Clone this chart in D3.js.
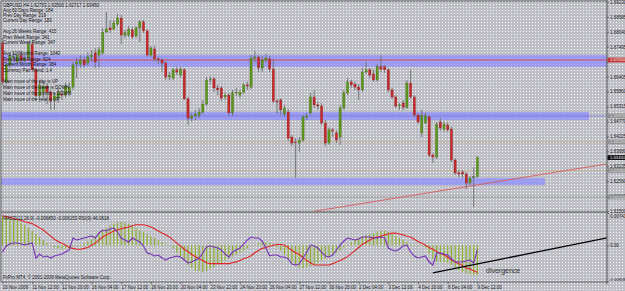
<!DOCTYPE html>
<html>
<head>
<meta charset="utf-8">
<script src="https://cdn.jsdelivr.net/npm/d3@7"></script>
<style>
  body { margin: 0; background: #c4c5cc; }
  svg { display: block; }
</style>
</head>
<body>
<svg id="chart" width="625" height="291"></svg>
<script>
// GBPUSD H4, one row per bar: [open, high, low, close]
var ohlc = [
  [1.6763,1.6781,1.6610,1.6621],[1.6621,1.6694,1.6613,1.6683],[1.6683,1.6727,1.6672,1.6716],[1.6712,1.6730,1.6694,1.6714],
  [1.6694,1.6730,1.6686,1.6719],[1.6719,1.6730,1.6690,1.6701],[1.6701,1.6719,1.6690,1.6708],[1.6708,1.6767,1.6701,1.6759],
  [1.6759,1.6774,1.6657,1.6665],[1.6665,1.6672,1.6555,1.6570],[1.6570,1.6628,1.6555,1.6610],[1.6584,1.6621,1.6562,1.6606],
  [1.6606,1.6617,1.6540,1.6584],[1.6584,1.6592,1.6519,1.6551],[1.6555,1.6581,1.6519,1.6570],[1.6562,1.6599,1.6544,1.6584],
  [1.6577,1.6592,1.6555,1.6573],[1.6573,1.6621,1.6562,1.6606],[1.6581,1.6621,1.6570,1.6602],[1.6602,1.6694,1.6592,1.6683],
  [1.6686,1.6708,1.6635,1.6694],[1.6686,1.6719,1.6672,1.6701],[1.6701,1.6712,1.6672,1.6683],[1.6690,1.6730,1.6679,1.6712],
  [1.6712,1.6738,1.6694,1.6719],[1.6727,1.6745,1.6672,1.6694],[1.6719,1.6748,1.6672,1.6738],[1.6727,1.6818,1.6719,1.6803],
  [1.6803,1.6876,1.6800,1.6814],[1.6818,1.6847,1.6800,1.6811],[1.6814,1.6847,1.6811,1.6836],[1.6832,1.6869,1.6825,1.6854],
  [1.6854,1.6865,1.6759,1.6792],[1.6792,1.6811,1.6781,1.6800],[1.6792,1.6825,1.6785,1.6814],[1.6811,1.6821,1.6778,1.6785],
  [1.6789,1.6825,1.6781,1.6818],[1.6818,1.6847,1.6767,1.6840],[1.6840,1.6847,1.6800,1.6807],[1.6807,1.6814,1.6712,1.6719],
  [1.6719,1.6752,1.6712,1.6745],[1.6741,1.6752,1.6697,1.6705],[1.6705,1.6712,1.6686,1.6701],[1.6701,1.6708,1.6657,1.6690],
  [1.6690,1.6697,1.6628,1.6639],[1.6639,1.6657,1.6628,1.6646],[1.6635,1.6672,1.6628,1.6665],[1.6665,1.6676,1.6646,1.6657],
  [1.6646,1.6676,1.6635,1.6668],[1.6665,1.6672,1.6555,1.6559],[1.6559,1.6566,1.6464,1.6489],[1.6489,1.6508,1.6475,1.6497],
  [1.6497,1.6519,1.6482,1.6504],[1.6500,1.6526,1.6489,1.6511],[1.6511,1.6555,1.6504,1.6540],[1.6540,1.6639,1.6533,1.6628],
  [1.6628,1.6643,1.6613,1.6632],[1.6632,1.6639,1.6584,1.6599],[1.6599,1.6610,1.6573,1.6592],[1.6599,1.6606,1.6551,1.6562],
  [1.6566,1.6584,1.6555,1.6573],[1.6573,1.6581,1.6497,1.6508],[1.6508,1.6592,1.6497,1.6581],[1.6581,1.6599,1.6570,1.6584],
  [1.6573,1.6592,1.6562,1.6584],[1.6584,1.6617,1.6577,1.6610],[1.6610,1.6621,1.6592,1.6606],[1.6602,1.6719,1.6595,1.6708],
  [1.6708,1.6734,1.6694,1.6712],[1.6712,1.6719,1.6657,1.6672],[1.6672,1.6716,1.6657,1.6701],[1.6701,1.6723,1.6690,1.6708],
  [1.6705,1.6716,1.6657,1.6668],[1.6668,1.6701,1.6544,1.6551],[1.6551,1.6559,1.6504,1.6548],[1.6555,1.6562,1.6500,1.6519],
  [1.6504,1.6537,1.6493,1.6526],[1.6511,1.6522,1.6405,1.6416],[1.6420,1.6427,1.6387,1.6398],[1.6402,1.6416,1.6270,1.6400],
  [1.6398,1.6420,1.6365,1.6409],[1.6409,1.6500,1.6402,1.6493],[1.6493,1.6508,1.6482,1.6497],[1.6508,1.6581,1.6500,1.6566],
  [1.6566,1.6592,1.6526,1.6537],[1.6537,1.6548,1.6519,1.6533],[1.6533,1.6544,1.6464,1.6471],[1.6471,1.6482,1.6387,1.6398],
  [1.6398,1.6456,1.6391,1.6446],[1.6446,1.6453,1.6420,1.6442],[1.6435,1.6446,1.6398,1.6409],[1.6420,1.6537,1.6391,1.6526],
  [1.6526,1.6592,1.6519,1.6581],[1.6581,1.6635,1.6573,1.6621],[1.6621,1.6628,1.6599,1.6610],[1.6613,1.6621,1.6592,1.6602],
  [1.6602,1.6613,1.6555,1.6592],[1.6592,1.6672,1.6584,1.6657],[1.6657,1.6694,1.6650,1.6665],[1.6665,1.6672,1.6635,1.6646],
  [1.6650,1.6665,1.6621,1.6628],[1.6628,1.6686,1.6621,1.6676],[1.6676,1.6719,1.6657,1.6668],[1.6676,1.6683,1.6654,1.6665],
  [1.6665,1.6672,1.6584,1.6592],[1.6592,1.6599,1.6559,1.6566],[1.6566,1.6573,1.6526,1.6533],[1.6533,1.6544,1.6519,1.6537],
  [1.6544,1.6555,1.6519,1.6529],[1.6529,1.6628,1.6522,1.6617],[1.6617,1.6665,1.6559,1.6566],[1.6566,1.6573,1.6493,1.6500],
  [1.6500,1.6508,1.6467,1.6475],[1.6435,1.6519,1.6420,1.6500],[1.6471,1.6508,1.6467,1.6497],[1.6493,1.6500,1.6347,1.6354],
  [1.6354,1.6362,1.6325,1.6347],[1.6347,1.6475,1.6340,1.6467],[1.6475,1.6489,1.6442,1.6453],[1.6449,1.6478,1.6438,1.6467],
  [1.6464,1.6475,1.6438,1.6446],[1.6449,1.6456,1.6329,1.6336],[1.6336,1.6343,1.6281,1.6289],[1.6289,1.6300,1.6274,1.6285],
  [1.6292,1.6300,1.6270,1.6285],[1.6285,1.6292,1.6230,1.6252],[1.6252,1.6278,1.6245,1.6270],[1.6274,1.6310,1.6164,1.6275],
  [1.62753,1.63500,1.62717,1.63450]
];

// MACD(12,26,9) main values (histogram) and signal line
var macd = [
  0.0066,0.0064,0.0061,0.0059,0.0057,0.0052,0.0047,0.0040,0.0033,0.0026,0.0019,0.0012,0.0005,
  -0.0002,-0.0005,-0.0007,-0.0009,-0.0007,-0.0005,
  -0.0002,0.0000,0.0002,0.0005,
  0.0009,0.0014,0.0021,0.0028,0.0033,0.0040,0.0045,0.0050,0.0052,0.0054,
  0.0052,0.0050,0.0045,0.0040,0.0035,0.0031,0.0026,0.0021,0.0017,0.0012,0.0007,0.0002,0.0000,
  -0.0007,-0.0017,-0.0026,-0.0035,-0.0045,-0.0052,-0.0057,-0.0059,-0.0061,
  -0.0059,-0.0054,-0.0050,-0.0045,-0.0040,-0.0035,-0.0031,-0.0026,-0.0021,-0.0017,-0.0012,-0.0007,
  -0.0002,0.0002,0.0005,0.0007,0.0007,0.0005,0.0002,
  -0.0005,-0.0012,-0.0021,-0.0031,-0.0040,-0.0047,-0.0052,-0.0052,-0.0050,-0.0047,-0.0045,
  -0.0040,-0.0035,-0.0031,-0.0026,-0.0021,-0.0017,-0.0012,
  -0.0005,0.0002,0.0007,0.0012,0.0017,0.0021,0.0024,
  0.0026,0.0028,0.0031,0.0033,0.0033,0.0031,
  0.0026,0.0021,0.0017,0.0012,0.0007,0.0002,
  0.0000,-0.0002,-0.0002,-0.0005,-0.0019,-0.0031,-0.0038,-0.0038,-0.0038,-0.0040,-0.0045,-0.0052,
  -0.0057,-0.0061,-0.0064,-0.0066,-0.0068,-0.00685
];
var signal = [
  0.0068,0.0066,0.0064,0.0061,0.0059,0.0057,0.0054,0.0052,0.0050,
  0.0045,0.0040,0.0035,0.0028,0.0021,0.0014,0.0009,0.0005,0.0000,
  -0.0005,-0.0007,-0.0009,-0.0009,-0.0007,-0.0005,
  0.0000,0.0005,0.0012,0.0019,0.0024,0.0028,0.0033,0.0035,0.0038,0.0040,0.0042,0.0045,
  0.0047,0.0047,0.0047,0.0045,0.0042,0.0038,0.0033,0.0028,0.0024,0.0019,0.0012,0.0005,
  -0.0002,-0.0009,-0.0014,-0.0021,-0.0026,-0.0031,-0.0035,-0.0040,-0.0042,-0.0042,-0.0042,-0.0042,-0.0042,-0.0042,
  -0.0040,-0.0038,-0.0035,-0.0031,-0.0028,-0.0024,-0.0017,-0.0012,-0.0007,-0.0005,-0.0002,0.0000,0.0002,0.0002,0.0000,
  -0.0005,-0.0012,-0.0017,-0.0021,-0.0028,-0.0035,-0.0040,-0.0045,-0.0045,-0.0045,-0.0045,-0.0045,-0.0042,-0.0038,-0.0035,
  -0.0031,-0.0026,-0.0019,-0.0012,-0.0005,0.0002,0.0007,0.0012,0.0017,0.0019,0.0021,0.0024,0.0026,0.0028,0.0028,
  0.0026,0.0024,0.0021,0.0019,0.0014,0.0009,0.0005,0.0000,-0.0005,-0.0009,-0.0014,-0.0019,-0.0021,-0.0028,-0.0033,
  -0.0038,-0.0042,-0.0047,-0.0052,-0.0054,-0.0059,-0.006153
];
// RSI(9)
var rsi = [
  42.6,51.5,54.4,55.9,55.9,54.4,52.9,54.4,55.9,33.8,39.7,35.3,36.8,33.8,36.8,38.2,39.7,42.6,45.6,
  63.2,60.3,61.8,63.2,64.7,66.2,63.2,70.6,75.0,73.5,76.5,77.9,72.1,63.2,60.3,57.4,63.2,60.3,57.4,51.5,
  41.2,39.7,36.8,38.2,33.8,30.9,33.8,35.3,36.8,35.3,30.9,26.5,27.9,30.9,33.8,41.2,50.0,51.5,50.0,48.5,
  45.6,39.7,35.3,42.6,45.6,48.5,54.4,60.3,64.7,63.2,63.2,58.8,48.5,36.8,38.2,38.2,35.3,35.3,32.4,25.0,
  23.5,25.0,33.8,42.6,52.9,51.5,48.5,42.6,36.8,35.3,38.2,45.6,52.9,58.8,63.2,61.8,60.3,61.8,64.7,64.7,
  64.7,63.2,63.2,64.7,63.2,48.5,45.6,44.1,47.1,51.5,52.9,42.6,36.8,33.8,35.3,36.8,27.9,23.5,41.2,41.2,
  39.7,38.2,32.4,27.9,27.9,27.9,29.4,30.9,26.5,46.1
];

var timeBars = [0, 8, 16, 24, 32, 40, 48, 56, 64, 72, 80, 88, 96, 104, 112, 120, 128];
var timeLabels = ["10 Nov 2009", "11 Nov 12:00", "12 Nov 20:00", "16 Nov 04:00", "17 Nov 12:00",
  "18 Nov 20:00", "20 Nov 04:00", "23 Nov 12:00", "24 Nov 20:00", "26 Nov 04:00", "27 Nov 12:00",
  "30 Nov 20:00", "2 Dec 04:00", "3 Dec 12:00", "4 Dec 20:00", "8 Dec 04:00", "9 Dec 12:00"];
var priceTicks = [1.69130, 1.68585, 1.68040, 1.67495, 1.66950, 1.66405, 1.65860, 1.65315,
  1.64770, 1.64225, 1.63680, 1.63135, 1.62590, 1.62045, 1.61500];
var macdTicks = [0.00741, 0, -0.00818];
var macdTickLabels = ["0.00741", "0.00", "-0.00818"];

// support / resistance zones [top, bottom, last bar reached] and lines
var zones = [[1.6719, 1.6676, 170], [1.6511, 1.6482, 158.1], [1.6270, 1.6245, 146.2]];
var redLevel = 1.6701;
var levels = [1.6497, 1.6402, 1.6298, 1.6201];
var trendPrice = [[84, 1.6149], [163, 1.6322]];
var trendMacd = [[116, -0.0063], [163, 0.0017]];

var info = [
  [5, "GBPUSD,H4  1.62753 1.63500 1.62717 1.63450"],
  [10, "Avg 60 Days Range: 184"],
  [15, "Prev Day Range: 219"],
  [20, "Current Day Range: 183"],
  [31.7, "Avg 26 Weeks Range: 415"],
  [37.3, "Prev Week Range: 341"],
  [42.7, "Current Week Range: 347"],
  [53.3, "Avg 12 Months Range: 1040"],
  [59.3, "Prev Month Range: 824"],
  [64.3, "Current Month Range: 384"],
  [70.7, "Currency Pair Trend: 1.4"],
  [81, "Main move of the day is UP"],
  [87.7, "Main move of the week is DOWN"],
  [93.3, "Main move of the month is DOWN"],
  [99, "Main move of the year is UP"]
];

var font = "Liberation Sans, Arial, sans-serif";
var small = "4.5px";
var right = 607, mainTop = 1, mainBottom = 212, indTop = 213, indBottom = 282;

var svg = d3.select("#chart");
var defs = svg.append("defs");
var pat = defs.append("pattern").attr("id", "dots")
  .attr("width", 3).attr("height", 3).attr("patternUnits", "userSpaceOnUse");
pat.append("rect").attr("width", 3).attr("height", 3).attr("fill", "#bdbec6");
pat.append("rect").attr("x", 1).attr("y", 1).attr("width", 1).attr("height", 1).attr("fill", "#ffffff").attr("opacity", 0.9);

defs.append("clipPath").attr("id", "clipMain").append("rect")
  .attr("x", 1).attr("y", mainTop).attr("width", right - 1).attr("height", mainBottom - mainTop);
defs.append("clipPath").attr("id", "clipInd").append("rect")
  .attr("x", 1).attr("y", indTop).attr("width", right - 1).attr("height", indBottom - indTop);

svg.append("rect").attr("width", 625).attr("height", 291).attr("fill", "url(#dots)");

var x = d3.scaleLinear().domain([0, 128]).range([2.5, 477.4]);
var y = d3.scaleLinear().domain([1.61500, 1.69130]).range([211, 1.9]);
var yM = d3.scaleLinear().domain([-0.00818, 0.00741]).range([281, 213]);
var yR = d3.scaleLinear().domain([0, 100]).range([281, 213]);

// ---------- main chart ----------
var main = svg.append("g").attr("clip-path", "url(#clipMain)");

main.selectAll(".zone").data(zones).enter().append("rect")
  .attr("x", x(-2)).attr("y", function(d) { return y(d[0]); })
  .attr("width", function(d) { return x(d[2]) - x(-2); })
  .attr("height", function(d) { return y(d[1]) - y(d[0]); })
  .attr("fill", "#8c8cff").attr("opacity", 0.72);

var lineColors = ["#7474dc", "#c9b08e", "#c9b08e", "#9a9a9a"];
levels.forEach(function(v, i) {
  main.append("line").attr("x1", 0).attr("x2", right).attr("y1", y(v)).attr("y2", y(v))
    .attr("stroke", lineColors[i]).attr("stroke-width", 0.8);
});
main.append("line").attr("x1", 0).attr("x2", right).attr("y1", y(redLevel)).attr("y2", y(redLevel))
  .attr("stroke", "#d24646").attr("stroke-width", 0.9);

main.append("line")
  .attr("x1", x(trendPrice[0][0])).attr("y1", y(trendPrice[0][1]))
  .attr("x2", x(trendPrice[1][0])).attr("y2", y(trendPrice[1][1]))
  .attr("stroke", "#d85a5a").attr("stroke-width", 0.9);

var bars = main.selectAll(".bar").data(ohlc).enter().append("g");
bars.append("line")
  .attr("x1", function(d, i) { return x(i); }).attr("x2", function(d, i) { return x(i); })
  .attr("y1", function(d) { return y(d[1]); }).attr("y2", function(d) { return y(d[2]); })
  .attr("stroke", "#6f6f6f").attr("stroke-width", 0.9);
bars.append("rect")
  .attr("x", function(d, i) { return x(i) - 1.1; })
  .attr("width", 2.2)
  .attr("y", function(d) { return y(Math.max(d[0], d[3])); })
  .attr("height", function(d) { return Math.max(0.9, Math.abs(y(d[0]) - y(d[3]))); })
  .attr("fill", function(d) {
    if (Math.abs(d[3] - d[0]) < 0.00012) return "#4a4a4a";
    return d[3] > d[0] ? "#5e951c" : "#c42a2a";
  })
  .attr("stroke", function(d) { return d[3] > d[0] ? "#3f6a10" : "#8e1a1a"; })
  .attr("stroke-width", 0.3);

// ---------- indicator ----------
var ind = svg.append("g").attr("clip-path", "url(#clipInd)");
ind.selectAll(".hist").data(macd).enter().append("rect")
  .attr("x", function(d, i) { return x(i) - 0.6; })
  .attr("width", 1.2)
  .attr("y", function(d) { return yM(Math.max(d, 0)); })
  .attr("height", function(d) { return Math.max(0.6, Math.abs(yM(d) - yM(0))); })
  .attr("fill", "#8db22e");

ind.append("path").datum(signal)
  .attr("d", d3.line().x(function(d, i) { return x(i); }).y(function(d) { return yM(d); }))
  .attr("fill", "none").attr("stroke", "#e02424").attr("stroke-width", 1.1);

ind.append("path").datum(rsi)
  .attr("d", d3.line().x(function(d, i) { return x(i); }).y(function(d) { return yR(d); }))
  .attr("fill", "none").attr("stroke", "#7630b8").attr("stroke-width", 1.1);

ind.append("line")
  .attr("x1", x(trendMacd[0][0])).attr("y1", yM(trendMacd[0][1]))
  .attr("x2", x(trendMacd[1][0])).attr("y2", yM(trendMacd[1][1]))
  .attr("stroke", "#000").attr("stroke-width", 1.3);

svg.append("text").attr("x", 486).attr("y", 272.5).text("divergence")
  .attr("font-family", font).attr("font-size", "7px").attr("fill", "#333");

// ---------- frame ----------
var frame = "#4f4f4f";
svg.append("line").attr("x1", 1).attr("x2", right).attr("y1", 1).attr("y2", 1).attr("stroke", frame).attr("stroke-width", 0.8);
svg.append("line").attr("x1", 1).attr("x2", 1).attr("y1", 1).attr("y2", indBottom).attr("stroke", frame).attr("stroke-width", 0.8);
svg.append("line").attr("x1", right).attr("x2", right).attr("y1", 0).attr("y2", indBottom + 2).attr("stroke", frame).attr("stroke-width", 1);
svg.append("line").attr("x1", 1).attr("x2", right).attr("y1", mainBottom).attr("y2", mainBottom).attr("stroke", frame).attr("stroke-width", 1.2);
svg.append("line").attr("x1", 1).attr("x2", right).attr("y1", indBottom).attr("y2", indBottom).attr("stroke", frame).attr("stroke-width", 0.8);

// ---------- axes ----------
function styleAxis(g) {
  g.select(".domain").remove();
  g.attr("font-size", small).attr("font-family", font).attr("color", "#1a1a1a");
  g.selectAll("line").attr("stroke", "#3a3a3a").attr("stroke-width", 0.6);
}

var pAxis = svg.append("g").attr("transform", "translate(" + right + ",0)")
  .call(d3.axisRight(y).tickValues(priceTicks).tickFormat(d3.format(".5f")).tickSize(2).tickPadding(1))
  .call(styleAxis);
// the red level box sits over the tick label next to it, as on the terminal
pAxis.selectAll(".tick text").filter(function(d) { return Math.abs(y(d) - y(redLevel)) < 3; }).remove();

var mAxis = svg.append("g").attr("transform", "translate(" + right + ",0)")
  .call(d3.axisRight(yM).tickValues(macdTicks)
    .tickFormat(function(d, i) { return macdTickLabels[i]; }).tickSize(2).tickPadding(1))
  .call(styleAxis);
mAxis.selectAll("text")
  .attr("dy", function(d, i) { return i === 0 ? "1.1em" : (i === 2 ? "-0.1em" : "0.32em"); })
  .attr("font-size", function(d, i) { return i === 2 ? "4.1px" : null; })
  .attr("dx", function(d, i) { return i === 2 ? -0.8 : 0; });

var tAxis = svg.append("g").attr("transform", "translate(0," + indBottom + ")")
  .call(d3.axisBottom(x).tickValues(timeBars)
    .tickFormat(function(d, i) { return timeLabels[i]; }).tickSize(2).tickPadding(1.5))
  .call(styleAxis);
tAxis.selectAll("text").attr("text-anchor", "start").attr("dx", "-0.3");

// price boxes on the axis
function priceBox(v, fill, color) {
  svg.append("rect").attr("x", right + 0.5).attr("y", y(v) - 2.4).attr("width", 18).attr("height", 4.8).attr("fill", fill);
  svg.append("text").attr("x", right + 3).attr("y", y(v) + 1.5).text(d3.format(".5f")(v))
    .attr("font-family", font).attr("font-size", "4.2px").attr("fill", color);
}
levels.forEach(function(v) { priceBox(v, "#929292", "#d8d8d8"); });
priceBox(redLevel, "#c23636", "#ffffff");
priceBox(ohlc[ohlc.length - 1][3], "#0c0c0c", "#ffffff");

// ---------- texts ----------
svg.selectAll(".info").data(info).enter().append("text")
  .attr("x", 3).attr("y", function(d) { return d[0] + 1.6; })
  .text(function(d) { return d[1]; })
  .attr("font-family", font).attr("font-size", small).attr("fill", "#111");

svg.append("text").attr("x", 3).attr("y", 219.6)
  .text("MACD(12,26,9) -0.006850 -0.006153 RSI(9) 46.0618")
  .attr("font-family", font).attr("font-size", small).attr("fill", "#111");
svg.append("text").attr("x", 3).attr("y", 279.3)
  .text("FxPro MT4, \u00a9 2001-2009 MetaQuotes Software Corp.")
  .attr("font-family", font).attr("font-size", small).attr("fill", "#111");
</script>
</body>
</html>
